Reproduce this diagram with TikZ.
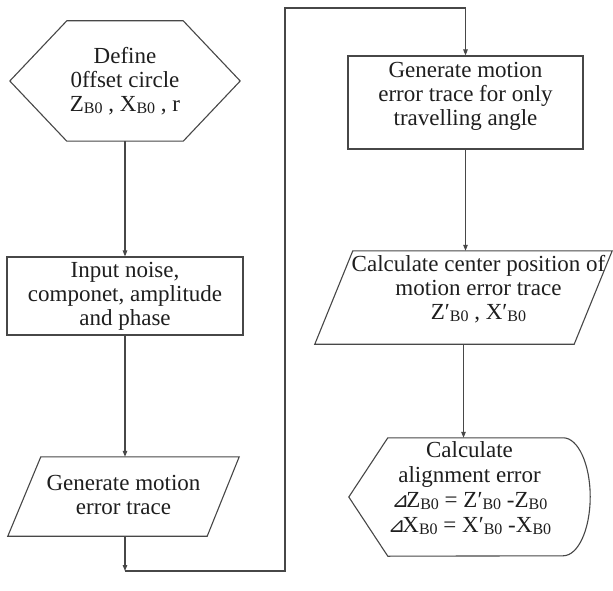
\documentclass[tikz,border=0pt]{standalone}
\usepackage{fontspec}
\setmainfont{Liberation Serif}
\newfontfamily\symfont{DejaVu Sans}
\usetikzlibrary{arrows.meta}
\definecolor{linec}{HTML}{474747}
\definecolor{txtc}{HTML}{1E1E1E}
\newcommand\sbx[1]{\raisebox{-2pt}{\fontsize{16}{16}\selectfont #1}}
\newcommand\dtri{{\symfont\fontsize{21}{21}\selectfont ⊿}\kern-3pt}
\begin{document}
\begin{tikzpicture}[x=1pt,y=-1pt,
  line/.style={draw=linec, line width=1.1pt},
  arr/.style={line, -{Triangle[length=6pt,width=4.5pt]}},
  box/.style={rectangle, inner sep=0pt, align=center, font=\fontsize{23}{24}\selectfont, text=txtc}]
\fill[white] (0,0) rectangle (613,591);
\useasboundingbox (0,0) rectangle (613,591);

% left column
\node[box, minimum width=230, minimum height=120] (hex) at (125,81)
  {Define\\0ffset circle\\Z\sbx{B0} , X\sbx{B0} , r};
\draw[line] (hex.west) -- ([xshift=57pt]hex.north west) -- ([xshift=-57pt]hex.north east)
  -- (hex.east) -- ([xshift=-57pt]hex.south east) -- ([xshift=57pt]hex.south west) -- cycle;

\node[box, draw=linec, line width=1.1pt, minimum width=236, minimum height=78] (inp) at (125,296)
  {Input noise,\\componet, amplitude\\and phase};

\node[box, minimum width=231, minimum height=79] (pa) at (123.5,496.5)
  {Generate motion\\error trace\rule[-3pt]{0pt}{0pt}};
\draw[line] ([xshift=33pt]pa.north west) -- (pa.north east) -- ([xshift=-32pt]pa.south east)
  -- (pa.south west) -- cycle;

% right column
\node[box, draw=linec, line width=1.1pt, minimum width=235, minimum height=93] (rb) at (465.5,102.5)
  {Generate motion\\error trace for only\\travelling angle\rule[-18pt]{0pt}{0pt}};

\node[box, minimum width=297, minimum height=93] (pb) at (463.5,297.5)
  {\hspace*{30pt}\begin{tabular}{@{}c@{}}Calculate center position of\\motion error trace\\Z′\sbx{B0} , X′\sbx{B0}\rule[-20pt]{0pt}{0pt}\end{tabular}};
\draw[line] ([xshift=38pt]pb.north west) -- (pb.north east) -- ([xshift=-38pt]pb.south east)
  -- (pb.south west) -- cycle;

\node[box, font=\fontsize{23}{25}\selectfont, minimum width=241, minimum height=118] (dp) at (469.5,497)
  {Calculate\\alignment error\\\dtri Z\sbx{B0} = Z′\sbx{B0} -Z\sbx{B0}\\\dtri X\sbx{B0} = X′\sbx{B0} -X\sbx{B0}\rule[-20pt]{0pt}{0pt}};
\draw[line] (dp.west) -- ([xshift=39pt]dp.north west) -- ([xshift=-27pt]dp.north east)
  arc[start angle=90, end angle=-90, x radius=27pt, y radius=59pt]
  -- ([xshift=39pt]dp.south west) -- cycle;

% connectors
\coordinate (c1) at (125,571);
\coordinate (c2) at (285,8);
\draw[arr] (hex.south) -- (inp.north);
\draw[arr] (inp.south) -- (inp.south |- pa.north);
\draw[arr] (inp.south |- pa.south) -- (c1);
\draw[arr] (c1) -- (c1 -| c2) -- (c2) -| (rb.north);
\draw[arr] (rb.south) -- (rb.south |- pb.north);
\draw[arr] (pb.south) -- (pb.south |- dp.north);
\end{tikzpicture}
\end{document}
